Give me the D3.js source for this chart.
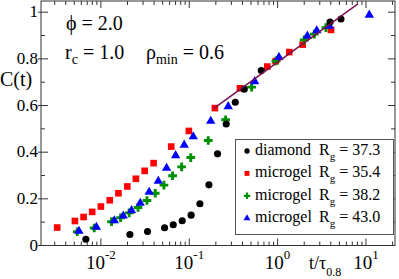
<!DOCTYPE html>
<html>
<head>
<meta charset="utf-8">
<script src="https://cdn.jsdelivr.net/npm/d3@7"></script>
<style>
  body { margin: 0; background: #fff; }
  svg { display: block; }
</style>
</head>
<body>
<script>
// diamond R_g = 37.3
const diamondT = [0.00676, 0.0213, 0.0337, 0.0526, 0.0659, 0.0832, 0.105, 0.132, 0.167, 0.209, 0.262, 0.332, 0.419, 0.653, 3.92, 5.21];
const diamondC = [0.027, 0.047, 0.060, 0.076, 0.089, 0.106, 0.130, 0.179, 0.260, 0.393, 0.521, 0.614, 0.670, 0.750, 0.958, 0.971];

// microgel R_g = 35.4
const gel354T = [0.0032, 0.00508, 0.00637, 0.00797, 0.0100, 0.0126, 0.0158, 0.0199, 0.0249, 0.0313, 0.0395, 0.0625, 0.099, 0.195, 0.375, 0.764, 0.95, 1.355, 1.92, 4.02];
const gel354C = [0.077, 0.105, 0.122, 0.144, 0.167, 0.194, 0.224, 0.253, 0.286, 0.320, 0.353, 0.424, 0.491, 0.589, 0.674, 0.767, 0.790, 0.829, 0.861, 0.924];

// microgel R_g = 38.2
const gel382T = [0.0054, 0.0084, 0.0132, 0.0167, 0.0209, 0.0263, 0.0332, 0.0412, 0.0517, 0.0648, 0.082, 0.104, 0.164, 0.258, 0.508, 0.957, 2.0, 2.6, 3.52];
const gel382C = [0.059, 0.075, 0.102, 0.119, 0.140, 0.163, 0.193, 0.224, 0.259, 0.299, 0.337, 0.377, 0.450, 0.539, 0.679, 0.791, 0.881, 0.906, 0.934];

// microgel R_g = 43.0
const gel430T = [0.00564, 0.0089, 0.0142, 0.0179, 0.0222, 0.0279, 0.0352, 0.0446, 0.0554, 0.0702, 0.0877, 0.111, 0.175, 0.276, 0.55, 1.035, 2.17, 2.77, 3.85, 10.9];
const gel430C = [0.062, 0.079, 0.107, 0.127, 0.150, 0.182, 0.229, 0.276, 0.332, 0.386, 0.431, 0.467, 0.533, 0.596, 0.703, 0.807, 0.898, 0.921, 0.941, 0.988];

// fitted line
const fitT = [0.19, 8.1];
const fitC = [0.588, 1.036];

const legendNames = ['diamond', 'microgel', 'microgel', 'microgel'];
const legendRg = ['37.3', '35.4', '38.2', '43.0'];

const xMajor = [0.01, 0.1, 1, 10];
const xExp = ['-2', '-1', '0', '1'];
const yMajor = [0, 0.2, 0.4, 0.6, 0.8, 1];
const yLabels = ['0', '0.2', '0.4', '0.6', '0.8', '1'];

const W = 399, H = 279;
const plotL = 41, plotR = 395, plotT = 1, plotB = 245.5;
const FONT = 'Liberation Serif';

const x = d3.scaleLog().domain([0.0021, 21.3]).range([plotL, plotR]);
const y = d3.scaleLinear().domain([0, 1.048]).range([plotB, plotT]);

const svg = d3.select('body').append('svg')
  .attr('width', W)
  .attr('height', H);

function zip(ts, cs) {
  return ts.map((t, i) => ({t: t, c: cs[i]}));
}

// minor ticks for log axis
const xMinor = [];
d3.range(-3, 2).forEach(function(k) {
  d3.range(2, 10).forEach(function(m) {
    const v = m * Math.pow(10, k);
    if (v > x.domain()[0] && v < x.domain()[1]) xMinor.push(v);
  });
});
const yMinor = [0.1, 0.3, 0.5, 0.7, 0.9];

function drawFrame() {
  const g = svg.append('g').attr('stroke', '#333').attr('stroke-width', 1);
  g.append('rect')
    .attr('x', plotL).attr('y', plotT)
    .attr('width', plotR - plotL).attr('height', plotB - plotT)
    .attr('fill', 'none');

  // bottom and top ticks
  [[plotB, -1], [plotT, 1]].forEach(function(side) {
    g.selectAll(null).data(xMajor).join('line')
      .attr('x1', d => x(d)).attr('x2', d => x(d))
      .attr('y1', side[0]).attr('y2', side[0] + side[1] * 7);
    g.selectAll(null).data(xMinor).join('line')
      .attr('x1', d => x(d)).attr('x2', d => x(d))
      .attr('y1', side[0]).attr('y2', side[0] + side[1] * 4);
  });

  // left and right ticks
  g.selectAll(null).data(yMajor).join('line')
    .attr('x1', plotL - 3).attr('x2', plotL + 7)
    .attr('y1', d => y(d)).attr('y2', d => y(d));
  g.selectAll(null).data(yMinor).join('line')
    .attr('x1', plotL).attr('x2', plotL + 4)
    .attr('y1', d => y(d)).attr('y2', d => y(d));
  g.selectAll(null).data(yMajor).join('line')
    .attr('x1', plotR).attr('x2', plotR - 7)
    .attr('y1', d => y(d)).attr('y2', d => y(d));
  g.selectAll(null).data(yMinor).join('line')
    .attr('x1', plotR).attr('x2', plotR - 4)
    .attr('y1', d => y(d)).attr('y2', d => y(d));

  // tick labels
  svg.append('g').selectAll('text').data(yMajor).join('text')
    .attr('x', plotL - 3)
    .attr('y', d => y(d) + 5)
    .attr('text-anchor', 'end')
    .attr('font-family', FONT)
    .attr('font-size', 17)
    .text((d, i) => yLabels[i]);

  const xl = svg.append('g').selectAll('text').data(xMajor).join('text')
    .attr('x', d => x(d))
    .attr('y', 269)
    .attr('text-anchor', 'middle')
    .attr('font-family', FONT)
    .attr('font-size', 19);
  xl.append('tspan').text('10');
  xl.append('tspan').attr('dy', -10).attr('font-size', 13).text((d, i) => xExp[i]);

  // axis titles
  svg.append('text')
    .attr('x', 0).attr('y', 86)
    .attr('font-family', FONT)
    .attr('font-size', 20)
    .text('C(t)');
  const xt = svg.append('text')
    .attr('x', 309).attr('y', 269)
    .attr('font-family', FONT)
    .attr('font-size', 18);
  xt.append('tspan').text('t/τ');
  xt.append('tspan').attr('dy', 7).attr('font-size', 12).text('0.8');
}

const series = [
  {data: zip(gel354T, gel354C), color: '#ff0000', shape: 'square'},
  {data: zip(gel382T, gel382C), color: '#009000', shape: 'plus'},
  {data: zip(gel430T, gel430C), color: '#0000ff', shape: 'triangle'},
  {data: zip(diamondT, diamondC), color: '#000000', shape: 'circle'}
];

function symbolPath(shape, k) {
  k = k || 1;
  if (shape === 'square') return d3.symbol(d3.symbolSquare, 44 * k)();
  if (shape === 'triangle') return d3.symbol(d3.symbolTriangle, 38 * k)();
  if (shape === 'plus') {
    // fat plus: cross overlaid with a diamond
    return d3.symbol(d3.symbolCross, 42 * k)() + d3.symbol(d3.symbolDiamond, 22 * k)();
  }
  return d3.symbol(d3.symbolCircle, 40 * k)();
}

function drawMarkers() {
  series.forEach(function(s) {
    svg.append('g').selectAll('path').data(s.data).join('path')
      .attr('transform', d => `translate(${x(d.t)},${y(d.c)})`)
      .attr('d', symbolPath(s.shape))
      .attr('fill', s.color);
  });

  svg.append('path')
    .datum(zip(fitT, fitC))
    .attr('fill', 'none')
    .attr('stroke', '#7a1050')
    .attr('stroke-width', 1.5)
    .attr('d', d3.line().x(d => x(d.t)).y(d => y(d.c)));
}

function drawLegend() {
  const order = [
    {color: '#000000', shape: 'circle'},
    {color: '#ff0000', shape: 'square'},
    {color: '#009000', shape: 'plus'},
    {color: '#0000ff', shape: 'triangle'}
  ];
  const lg = svg.append('g');
  lg.append('rect')
    .attr('x', 235.5).attr('y', 139.5)
    .attr('width', 158).attr('height', 95)
    .attr('fill', '#fff')
    .attr('stroke', '#555');

  const row = lg.selectAll('g.row').data(legendNames).join('g')
    .attr('class', 'row')
    .attr('transform', (d, i) => `translate(0,${150 + i * 22.4})`);
  row.append('path')
    .attr('transform', 'translate(247,1)')
    .attr('d', (d, i) => symbolPath(order[i].shape, 0.55))
    .attr('fill', (d, i) => order[i].color);
  row.append('text')
    .attr('x', 255).attr('y', 5)
    .attr('font-family', FONT)
    .attr('font-size', 16)
    .text(d => d);
  const rg = row.append('text')
    .attr('x', 319).attr('y', 5)
    .attr('font-family', FONT)
    .attr('font-size', 16);
  rg.append('tspan').text('R');
  rg.append('tspan').attr('dy', 5).attr('font-size', 11).text('g');
  rg.append('tspan').attr('dy', -5).text((d, i) => ' = ' + legendRg[i]);
}

function drawNotes() {
  svg.append('text')
    .attr('x', 66).attr('y', 29.5)
    .attr('font-family', FONT)
    .attr('font-size', 20)
    .text('ϕ = 2.0');
  const rc = svg.append('text')
    .attr('x', 65).attr('y', 59)
    .attr('font-family', FONT)
    .attr('font-size', 20);
  rc.append('tspan').text('r');
  rc.append('tspan').attr('dy', 5).attr('font-size', 14).text('c');
  rc.append('tspan').attr('dy', -5).text(' = 1.0');
  const rho = svg.append('text')
    .attr('x', 146).attr('y', 59)
    .attr('font-family', FONT)
    .attr('font-size', 20);
  rho.append('tspan').text('ρ');
  rho.append('tspan').attr('dy', 5).attr('font-size', 14).text('min');
  rho.append('tspan').attr('dy', -5).text(' = 0.6');
}

drawFrame();
drawMarkers();
drawLegend();
drawNotes();
</script>
</body>
</html>
